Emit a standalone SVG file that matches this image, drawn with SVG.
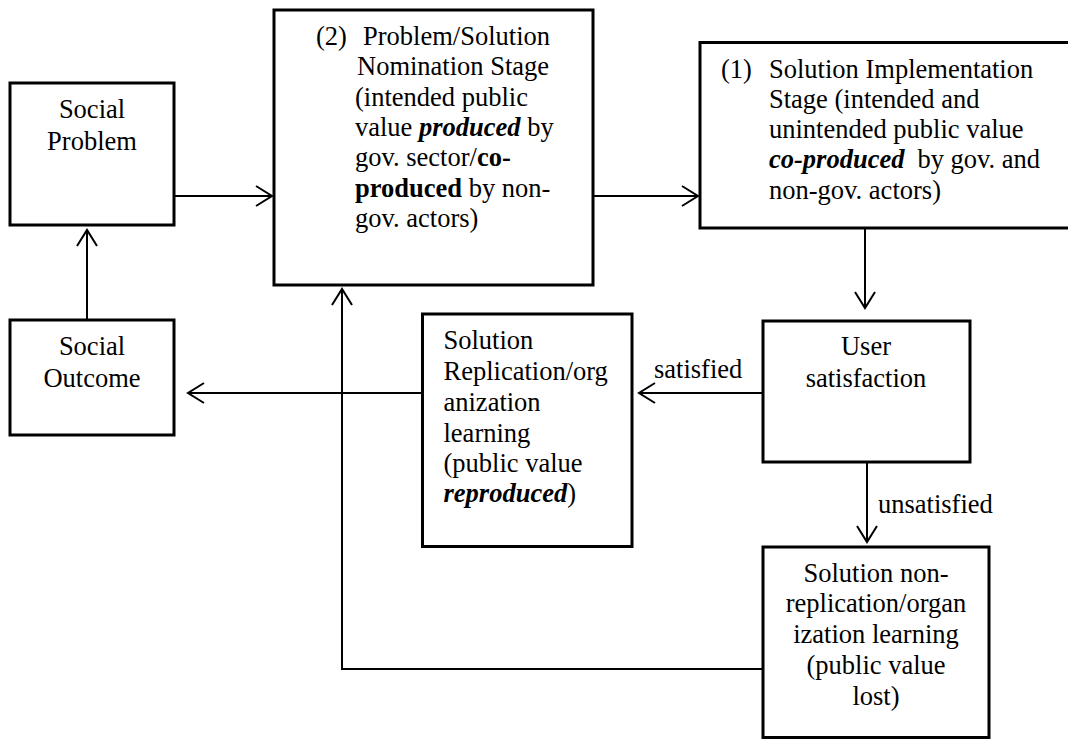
<svg xmlns="http://www.w3.org/2000/svg" width="1068" height="739" viewBox="0 0 1068 739" font-family="'Liberation Serif', 'Times New Roman', Times, serif">
<style>
.box{fill:#fff;stroke:#000;stroke-width:3}
text{font-family:"Liberation Serif","Times New Roman",Times,serif;font-size:26.5px;fill:#000}
.c{text-anchor:middle}
.bi{font-weight:bold;font-style:italic}
.b{font-weight:bold}
.ln{fill:none;stroke:#000;stroke-width:2}
</style>
<defs>
<marker id="ah" markerUnits="userSpaceOnUse" markerWidth="24" markerHeight="24" viewBox="-18 -12 20 24" refX="0" refY="0" orient="auto">
<path d="M-16,-10 L0,0 L-16,10" fill="none" stroke="#000" stroke-width="2"/>
</marker>
</defs>
<rect width="1068" height="739" fill="#fff"/>
<g id="connectors">
<line class="ln" x1="174" y1="196" x2="272" y2="196" marker-end="url(#ah)"/>
<line class="ln" x1="593" y1="196" x2="698" y2="196" marker-end="url(#ah)"/>
<line class="ln" x1="865" y1="228" x2="865" y2="308" marker-end="url(#ah)"/>
<line class="ln" x1="763" y1="393" x2="639" y2="393" marker-end="url(#ah)"/>
<text x="654" y="378">satisfied</text>
<line class="ln" x1="867" y1="462" x2="867" y2="542" marker-end="url(#ah)"/>
<text x="878" y="513">unsatisfied</text>
<line class="ln" x1="422" y1="393" x2="188" y2="393" marker-end="url(#ah)"/>
<line class="ln" x1="87" y1="320" x2="87" y2="230" marker-end="url(#ah)"/>
<polyline class="ln" points="763,669 342,669 342,289" marker-end="url(#ah)"/>
</g>
<g id="social-problem">
<rect class="box" x="10" y="83" width="164" height="142"/>
<text class="c" x="92" y="118">Social</text>
<text class="c" x="92" y="150">Problem</text>
</g>
<g id="nomination-stage">
<rect class="box" x="274" y="10" width="319" height="275"/>
<text x="316" y="45">(2)</text>
<text x="363" y="45">Problem/Solution</text>
<text x="357" y="75">Nomination Stage</text>
<text x="355" y="106">(intended public</text>
<text x="355" y="136">value <tspan class="bi">produced</tspan> by</text>
<text x="355" y="166">gov. sector/<tspan class="b">co-</tspan></text>
<text x="355" y="197"><tspan class="b">produced</tspan> by non-</text>
<text x="355" y="227">gov. actors)</text>
</g>
<g id="implementation-stage">
<rect class="box" x="700" y="42.5" width="380" height="185.5"/>
<text x="721" y="78">(1)</text>
<text x="769" y="78">Solution Implementation</text>
<text x="769" y="108">Stage (intended and</text>
<text x="769" y="138">unintended public value</text>
<text x="769" y="168"><tspan class="bi">co-produced</tspan><tspan dx="13">by gov. and</tspan></text>
<text x="769" y="199">non-gov. actors)</text>
</g>
<g id="user-satisfaction">
<rect class="box" x="763" y="321" width="207" height="141"/>
<text class="c" x="866" y="355">User</text>
<text class="c" x="866" y="387">satisfaction</text>
</g>
<g id="replication">
<rect class="box" x="422.5" y="314" width="209.5" height="232.5"/>
<text x="443.5" y="349">Solution</text>
<text x="443.5" y="380">Replication/org</text>
<text x="443.5" y="411">anization</text>
<text x="443.5" y="442">learning</text>
<text x="443.5" y="472">(public value</text>
<text x="443.5" y="502"><tspan class="bi">reproduced</tspan>)</text>
</g>
<g id="social-outcome">
<rect class="box" x="10" y="320" width="164" height="115"/>
<text class="c" x="92" y="355">Social</text>
<text class="c" x="92" y="387">Outcome</text>
</g>
<g id="non-replication">
<rect class="box" x="763" y="547" width="226" height="190.5"/>
<text class="c" x="876" y="582">Solution non-</text>
<text class="c" x="876" y="612">replication/organ</text>
<text class="c" x="876" y="643">ization learning</text>
<text class="c" x="876" y="674">(public value</text>
<text class="c" x="876" y="705">lost)</text>
</g>
</svg>
